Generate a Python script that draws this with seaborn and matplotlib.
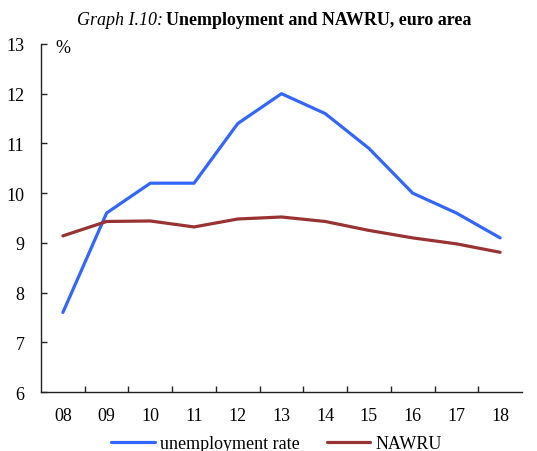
import numpy as np
import pandas as pd
import matplotlib
matplotlib.use("Agg")
import matplotlib.pyplot as plt
import seaborn as sns

# data
years = ["08", "09", "10", "11", "12", "13", "14", "15", "16", "17", "18"]
unemployment = [7.6, 9.6, 10.2, 10.2, 11.4, 12.0, 11.6, 10.9, 10.0, 9.6, 9.1]
nawru = [9.14, 9.43, 9.44, 9.32, 9.48, 9.52, 9.43, 9.25, 9.10, 8.98, 8.81]

series_names = ["unemployment rate", "NAWRU"]
colors = {"unemployment rate": "#3366FF", "NAWRU": "#993333"}

df = pd.DataFrame({
    "pos": list(range(len(years))) * 2,
    "value": unemployment + nawru,
    "series": [series_names[0]] * len(years) + [series_names[1]] * len(years),
})

sns.set_theme(style="white")
plt.rcParams["font.family"] = ["Liberation Serif", "DejaVu Serif"]
plt.rcParams["text.color"] = "black"

fig = plt.figure(figsize=(5.37, 4.52), dpi=100)
ax = fig.add_axes([0.0764, 0.1305, 0.8956, 0.77])

sns.lineplot(data=df, x="pos", y="value", hue="series", hue_order=series_names,
             palette=colors, linewidth=2.3, ax=ax, legend=False)

ax.set_xlim(-0.5, len(years) - 0.5)
ax.set_ylim(6, 13)
ax.set_yticks(range(6, 14))
ax.set_xticks(range(len(years)))
ax.set_xticklabels(years)
ax.set_xticks(np.arange(0.5, len(years) - 1, 1.0), minor=True)
ax.set_xlabel("")
ax.set_ylabel("")

ax.tick_params(axis="x", which="major", length=0, pad=11, labelsize=13, labelcolor="black")
ax.tick_params(axis="x", which="minor", direction="in", length=4, width=1, color="#222222", bottom=True)
ax.tick_params(axis="y", direction="in", length=4, width=1, color="#222222", pad=12,
               labelsize=13, left=True, labelcolor="black")

for side in ["top", "right"]:
    ax.spines[side].set_visible(False)
for side in ["left", "bottom"]:
    ax.spines[side].set_color("#222222")
    ax.spines[side].set_linewidth(1.0)

ax.text(0.03, 0.99, "%", transform=ax.transAxes, ha="left", va="center", fontsize=13)

# title: italic label + bold text
fig.text(0.304, 0.955, "Graph I.10:", ha="right", va="center", fontsize=13, style="italic")
fig.text(0.309, 0.955, "Unemployment and NAWRU, euro area", ha="left", va="center",
         fontsize=13, weight="bold")

handles = [plt.Line2D([], [], color=colors[s], linewidth=2.3) for s in series_names]
fig.legend(handles, series_names, loc="center", bbox_to_anchor=(0.515, 0.016), ncol=2,
           frameon=False, fontsize=13, handlelength=2.4, handletextpad=0.3,
           columnspacing=1.5)

fig.savefig("out.png", dpi=100)
